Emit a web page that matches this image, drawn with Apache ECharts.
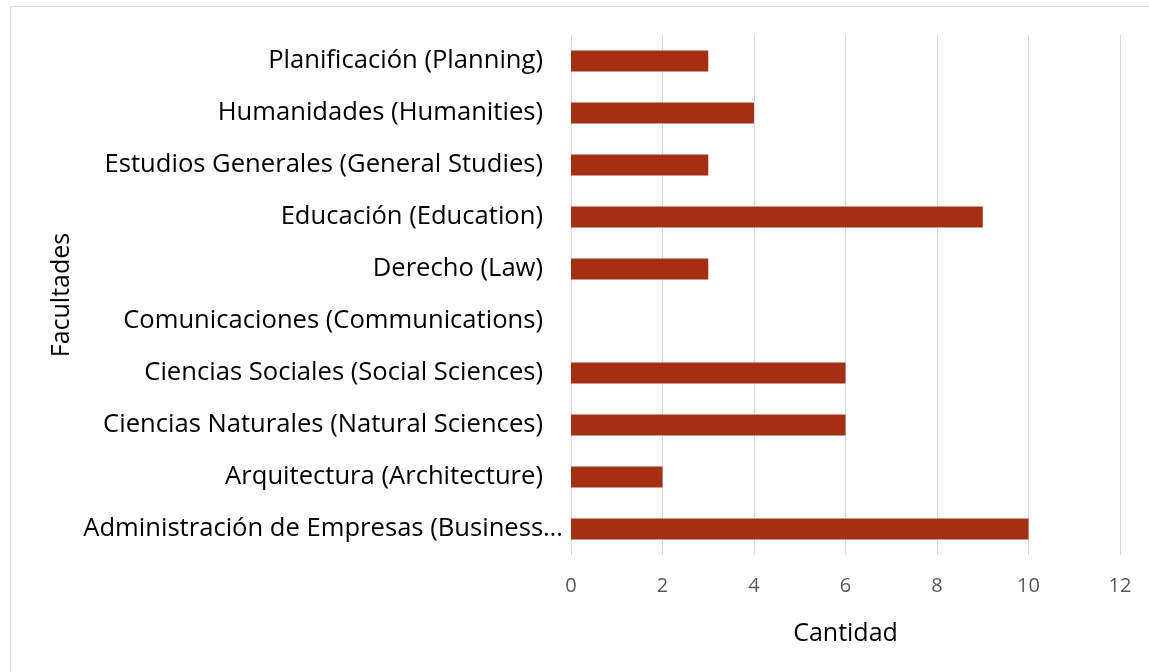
<!DOCTYPE html>
<html>
<head>
<meta charset="utf-8">
<script src="https://cdn.jsdelivr.net/npm/echarts@6/dist/echarts.min.js"></script>
<style>
  html, body { margin: 0; padding: 0; background: #fff; }
  #chart { width: 1149px; height: 672px; }
</style>
</head>
<body>
<div id="chart"></div>
<script>
var facultades = [
  'Administración de Empresas (Business…',
  'Arquitectura (Architecture)',
  'Ciencias Naturales (Natural Sciences)',
  'Ciencias Sociales (Social Sciences)',
  'Comunicaciones (Communications)',
  'Derecho (Law)',
  'Educación (Education)',
  'Estudios Generales (General Studies)',
  'Humanidades (Humanities)',
  'Planificación (Planning)'
];
var cantidad = [10, 2, 6, 6, 0, 3, 9, 3, 4, 3];

var font = '"Open Sans", sans-serif';
var chart = echarts.init(document.getElementById('chart'));
var option = {
  animation: false,
  backgroundColor: '#fff',
  textStyle: { fontFamily: font },
  graphic: [{
    type: 'rect',
    shape: { x: 10.5, y: 6.5, width: 1160, height: 700 },
    style: { fill: 'none', stroke: '#d9d9d9', lineWidth: 1 }
  }],
  grid: { left: 571, right: 29, top: 35, bottom: 117 },
  xAxis: {
    type: 'value',
    min: 0,
    max: 12,
    interval: 2,
    name: 'Cantidad',
    nameLocation: 'middle',
    nameGap: 66,
    nameTextStyle: { color: '#000', fontSize: 25, fontFamily: font },
    axisLine: { show: false },
    axisTick: { show: false },
    axisLabel: { color: '#595959', fontSize: 20, margin: 21, fontFamily: font },
    splitLine: { lineStyle: { color: '#d9d9d9', width: 1 } }
  },
  yAxis: {
    type: 'category',
    data: facultades,
    name: 'Facultades',
    nameLocation: 'middle',
    nameGap: 497,
    nameRotate: 90,
    nameMoveOverlap: false,
    nameTextStyle: { color: '#000', fontSize: 25, fontFamily: font },
    axisLine: { show: false },
    axisTick: { show: false },
    axisLabel: {
      color: '#000',
      fontSize: 25.6,
      margin: 8,
      fontFamily: font,
      // the truncated first label runs closer to the bars, as in the original
      formatter: function (v) {
        return v === facultades[0] ? v : '{p|' + v + '}';
      },
      rich: {
        p: { color: '#000', fontSize: 25.6, fontFamily: font, padding: [0, 20, 0, 0] }
      }
    },
    splitLine: { show: false }
  },
  series: [{
    type: 'bar',
    data: cantidad,
    barWidth: 21,
    itemStyle: { color: '#a52f12' }
  }]
};
chart.setOption(option);
window.onresize = chart.resize;
</script>
</body>
</html>
